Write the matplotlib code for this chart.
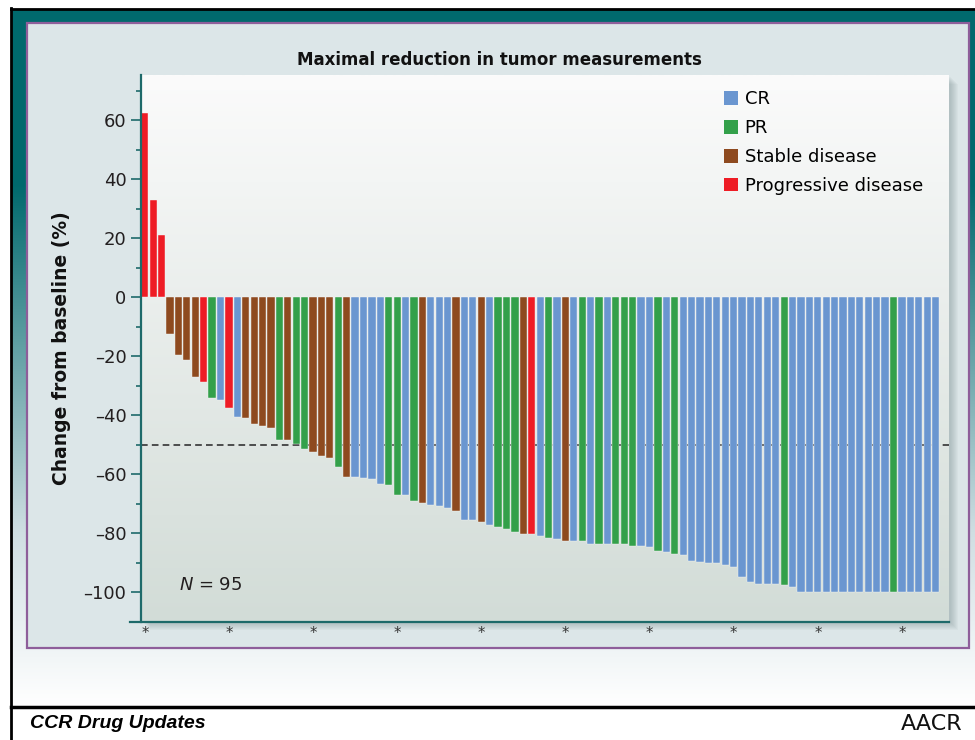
import numpy as np
import matplotlib
matplotlib.use('Agg')
import matplotlib.pyplot as plt
from matplotlib.patches import Patch, Rectangle

# respostas por paciente (ordenado como no gráfico), N = 95
resposta = (['PD', 'PD', 'PD', 'SD', 'SD', 'SD', 'SD', 'PD', 'PR', 'CR',
             'PD', 'CR', 'SD', 'SD', 'SD', 'SD', 'PR', 'SD', 'PR', 'PR',
             'SD', 'SD', 'SD', 'PR', 'SD', 'CR', 'CR', 'CR', 'CR', 'PR',
             'PR', 'CR', 'PR', 'SD', 'CR', 'CR', 'CR', 'SD', 'CR', 'CR',
             'SD', 'CR', 'PR', 'PR', 'PR', 'SD', 'PD', 'CR', 'PR', 'CR',
             'SD', 'CR', 'PR', 'CR', 'PR', 'CR', 'PR', 'PR', 'PR', 'CR',
             'CR', 'PR', 'CR', 'PR', 'CR', 'CR', 'CR', 'CR', 'CR', 'CR',
             'CR', 'CR', 'CR', 'CR', 'CR', 'CR', 'PR', 'CR']
            + ['CR'] * 11 + ['PR'] + ['CR'] * 5)

variacao = ([62.5, 33, 21, -12.5, -19.7, -21.2, -27, -28.7, -34.3, -35,
             -37.7, -40.6, -41, -43, -43.5, -44.3, -48.5, -48.5, -49.8, -51.6,
             -52.5, -53.7, -54.5, -57.5, -60.8, -60.8, -61.2, -61.7, -63.3, -63.7,
             -66.9, -66.9, -69, -69.6, -70.3, -70.8, -71.3, -72.4, -75.6, -75.6,
             -76.2, -77.1, -77.9, -78.7, -79.7, -80.3, -80.3, -81, -81.6, -82,
             -82.7, -82.7, -82.7, -83.5, -83.5, -83.8, -83.8, -83.8, -84.4, -84.4,
             -84.6, -86.1, -86.4, -86.9, -87.5, -89.3, -89.7, -90, -90, -90.8,
             -91.6, -95, -96.7, -97.1, -97.1, -97.1, -97.6, -98.2]
            + [-100] * 17)

categorias = ['CR', 'PR', 'SD', 'PD']
nomes = ['CR', 'PR', 'Stable disease', 'Progressive disease']
cores = {'CR': '#6A96D0', 'PR': '#33A04A', 'SD': '#8E4A1F', 'PD': '#EE1C25'}

titulo = 'Maximal reduction in tumor measurements'
rotulo_y = 'Change from baseline (%)'
yticks = [-100, -80, -60, -40, -20, 0, 20, 40, 60]
marcas_x = list(range(0, 95, 10))  # asteriscos embaixo

W, H = 975, 740
fig = plt.figure(figsize=(W / 100, H / 100), dpi=100)
fig.patch.set_facecolor('white')

# fundo decorativo em coordenadas de pixel
bg = fig.add_axes([0, 0, 1, 1])
bg.set_xlim(0, W)
bg.set_ylim(H, 0)
bg.set_axis_off()


def gradiente(pontos, n=256):
    pos = np.linspace(0, 1, n)
    ps = [p[0] for p in pontos]
    arr = np.zeros((n, 1, 3))
    for k in range(3):
        arr[:, 0, k] = np.interp(pos, ps, [p[1][k] for p in pontos])
    return arr


def hex2rgb(h):
    return tuple(int(h[i:i + 2], 16) / 255 for i in (1, 3, 5))


# moldura teal -> claro
moldura = gradiente([(0, hex2rgb('#006A6E')), (0.25, hex2rgb('#00696D')),
                     (0.75, hex2rgb('#CFDEE2')), (1, hex2rgb('#FFFFFF'))])
bg.imshow(moldura, extent=[12, W, 706, 10], aspect='auto', zorder=0)

# painel interno com borda roxa
bg.add_patch(Rectangle((27, 23), 942, 625, facecolor='#DCE6E8',
                       edgecolor='#8E5E9A', lw=1.6, zorder=1))

# sombra da área do gráfico
for i in range(8):
    bg.add_patch(Rectangle((143 + i, 77 + i), 808, 546, facecolor='#6C7E80',
                           edgecolor='none', alpha=0.05, zorder=2))

# fundo do gráfico em degradê
fundo = gradiente([(0, hex2rgb('#FBFBFB')), (1, hex2rgb('#D2DCD7'))])
bg.imshow(fundo, extent=[141, 949, 622, 75], aspect='auto', zorder=3)

# linhas pretas da moldura e rodapé
bg.plot([11, 11], [8, H], color='black', lw=2, zorder=5)
bg.plot([11, W], [9, 9], color='black', lw=2, zorder=5)
bg.plot([11, W], [707, 707], color='black', lw=2.5, zorder=5)
bg.add_patch(Rectangle((12, 708), W - 12, 32, facecolor='white', edgecolor='none', zorder=4))
bg.plot([130, 949], [622, 622], color='#1E6A6A', lw=1.6, zorder=6)
bg.set_xlim(0, W)
bg.set_ylim(H, 0)

fig.text(30 / W, 1 - 724 / H, 'CCR Drug Updates', fontsize=14, fontweight='bold',
         fontstyle='italic', family='Liberation Sans', va='center', ha='left')
fig.text(962 / W, 1 - 724 / H, 'AACR', fontsize=16, family='DejaVu Sans',
         va='center', ha='right', color='#111111')
fig.text(499 / W, 1 - 60 / H, titulo, fontsize=12, fontweight='bold',
         ha='center', va='center', color='#111111')

# gráfico principal
ax = fig.add_axes([141 / W, 1 - 622 / H, 808 / W, 547 / H])
ax.set_facecolor('none')

x = np.arange(len(variacao))
ax.axhline(-50, color='#333333', lw=1.2, dashes=(4, 2.5), zorder=1)
ax.bar(x, variacao, width=0.86, color=[cores[r] for r in resposta],
       edgecolor='#F4F6F6', linewidth=0.3, zorder=2)

ax.set_xlim(-0.45, 95.6)
ax.set_ylim(-110.1, 75.3)

for lado in ['top', 'right', 'bottom']:
    ax.spines[lado].set_visible(False)
ax.spines['left'].set_color('#1E6A6A')
ax.spines['left'].set_linewidth(1.6)

ax.set_yticks(yticks)
ax.set_yticklabels([str(v).replace('-', '\u2013') for v in yticks])
ax.set_yticks(range(-110, 75, 10), minor=True)
ax.tick_params(axis='y', which='major', length=7, width=1.2, color='#1E6A6A',
               labelsize=13, pad=3.5, labelcolor='#231F20')
ax.tick_params(axis='y', which='minor', length=3.5, width=1.2, color='#1E6A6A')

ax.set_xticks(marcas_x)
ax.set_xticklabels(['*'] * len(marcas_x))
ax.tick_params(axis='x', length=0, labelsize=10.5, pad=3, labelcolor='#333333')

ax.set_ylabel(rotulo_y, fontsize=13.5, fontweight='bold', color='#111111')
ax.yaxis.set_label_coords(-(141 - 71) / 808, 0.5)

ax.text(0.047, 0.068, '$N$ = 95', transform=ax.transAxes, fontsize=13,
        va='center', ha='left', color='#231F20')

alcas = [Patch(facecolor=cores[c], edgecolor='none') for c in categorias]
ax.legend(alcas, nomes, loc='upper left', bbox_to_anchor=(0.7215, 0.972),
          frameon=False, handlelength=0.8, handleheight=0.8, handletextpad=0.35,
          labelspacing=0.6, fontsize=13, borderaxespad=0, borderpad=0)

fig.savefig('out.png', dpi=100)
